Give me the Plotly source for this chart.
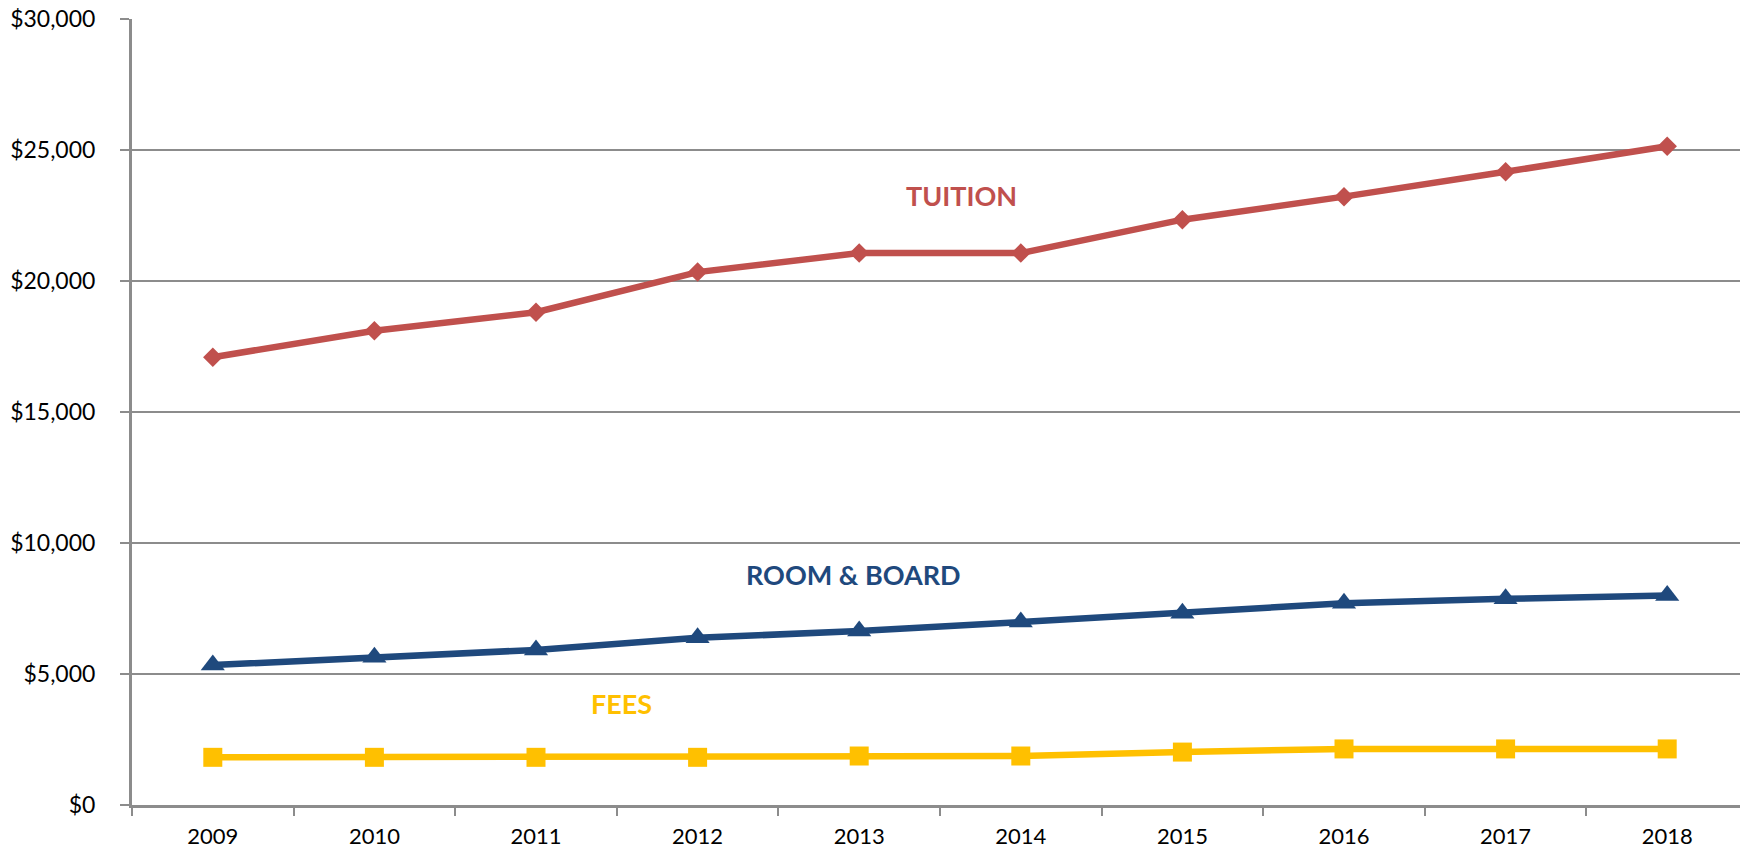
import plotly.graph_objects as go

years = ["2009", "2010", "2011", "2012", "2013", "2014", "2015", "2016", "2017", "2018"]
tuition = [17090, 18100, 18810, 20340, 21065, 21065, 22340, 23220, 24170, 25140]
room_board = [5340, 5640, 5920, 6380, 6640, 6980, 7320, 7700, 7870, 8000]
fees = [1820, 1820, 1820, 1820, 1870, 1870, 2020, 2140, 2140, 2140]
y_ticks = [0, 5000, 10000, 15000, 20000, 25000, 30000]
y_tick_text = ["$0", "$5,000", "$10,000", "$15,000", "$20,000", "$25,000", "$30,000"]

RED = "#C0504D"
BLUE = "#1F497D"
GOLD = "#FFC000"
GRID = "#8C8C8C"
FONT = "Lato"

fig = go.Figure()
fig.add_trace(go.Scatter(x=years, y=fees, mode="lines+markers",
                         line=dict(color=GOLD, width=6.5),
                         marker=dict(symbol="square", size=19, color=GOLD)))
fig.add_trace(go.Scatter(x=years, y=room_board, mode="lines+markers",
                         line=dict(color=BLUE, width=6.5),
                         marker=dict(symbol="triangle-up", size=21, color=BLUE)))
fig.add_trace(go.Scatter(x=years, y=tuition, mode="lines+markers",
                         line=dict(color=RED, width=6.5),
                         marker=dict(symbol="diamond", size=15, color=RED)))

labels = [("TUITION", 0.5136, 23250, RED),
          ("ROOM & BOARD", 0.4462, 8780, BLUE),
          ("FEES", 0.3032, 3860, GOLD)]
for txt, px, py, col in labels:
    fig.add_annotation(text="<b>" + txt + "</b>", x=px, xref="paper", y=py, yref="y",
                       xanchor="center", yanchor="middle",
                       showarrow=False, font=dict(family=FONT, size=27, color=col))

fig.update_layout(
    width=1740, height=846,
    margin=dict(l=124, r=0, t=11, b=49),
    paper_bgcolor="white", plot_bgcolor="white",
    showlegend=False,
    font=dict(family=FONT, size=23, color="black"),
    xaxis=dict(type="category", range=[-0.5, 9.5], showgrid=False, automargin=False,
               showline=True, linecolor=GRID, linewidth=3,
               ticks="outside", tickson="boundaries", ticklen=8, tickwidth=2,
               tickcolor=GRID, ticklabelstandoff=10,
               tickfont=dict(family=FONT, size=22, color="black")),
    yaxis=dict(range=[0, 30000.01], tickvals=y_ticks, ticktext=y_tick_text,
               showgrid=True, gridcolor=GRID, gridwidth=2, zeroline=False, automargin=False,
               showline=True, linecolor=GRID, linewidth=3,
               ticks="outside", ticklen=9, tickwidth=2, tickcolor=GRID,
               ticklabelstandoff=20, ticklabeloverflow="allow",
               tickfont=dict(family=FONT, size=23, color="black")),
)

fig.write_html("out.html")
